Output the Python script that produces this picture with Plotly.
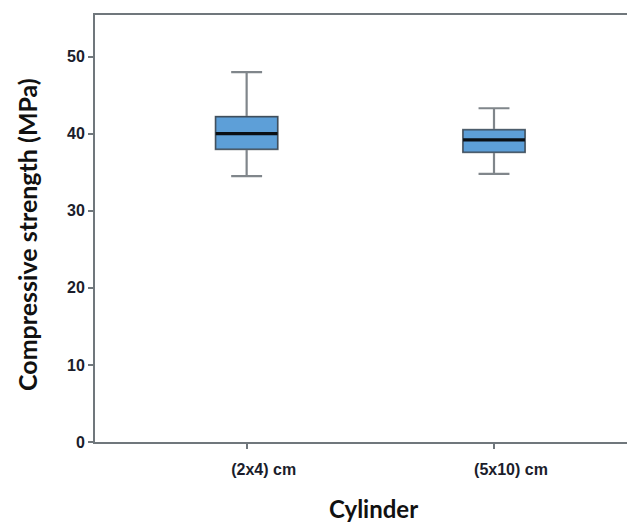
import plotly.graph_objects as go

categories = ["(2x4) cm", "(5x10) cm"]
lower_whisker = [34.5, 34.8]
q1_values = [38.0, 37.6]
medians = [40.0, 39.2]
q3_values = [42.2, 40.5]
upper_whisker = [48.0, 43.3]
y_ticks = [0, 10, 20, 30, 40, 50]

BOX_W = 0.25
FILL = "#5d9fd8"
WHISKER = "#80868b"
OUTLINE = "#3f4e5c"
AXIS = "#70777c"
TXT = "#1b1d2b"

xs = list(range(len(categories)))
fig = go.Figure()

for i in xs:
    # whiskers + box (gray)
    fig.add_trace(go.Box(
        x=[i], q1=[q1_values[i]], median=[medians[i]], q3=[q3_values[i]],
        lowerfence=[lower_whisker[i]], upperfence=[upper_whisker[i]],
        width=BOX_W, whiskerwidth=0.5, fillcolor=FILL,
        line=dict(color=WHISKER, width=2.2), showlegend=False, hoverinfo="skip"))
    # darker box outline
    fig.add_trace(go.Box(
        x=[i], q1=[q1_values[i]], median=[medians[i]], q3=[q3_values[i]],
        lowerfence=[q1_values[i]], upperfence=[q3_values[i]],
        width=BOX_W, whiskerwidth=0, fillcolor=FILL,
        line=dict(color=OUTLINE, width=1.3), showlegend=False, hoverinfo="skip"))
    # thick median line
    fig.add_trace(go.Scatter(
        x=[i - BOX_W / 2, i + BOX_W / 2], y=[medians[i], medians[i]],
        mode="lines", line=dict(color="#0a0f14", width=3.2),
        showlegend=False, hoverinfo="skip"))

# page body has an 8px margin, so the figure is sized/offset to compensate
fig.update_layout(
    width=635, height=517,
    margin=dict(l=87, r=8, t=5, b=83),
    plot_bgcolor="white", paper_bgcolor="white",
    font=dict(family="Liberation Sans, Arial", color=TXT),
    boxmode="overlay",
    xaxis=dict(
        range=[-0.613, 1.57], tickvals=xs, ticktext=categories,
        showgrid=False, zeroline=False,
        showline=True, linecolor=AXIS, linewidth=2, mirror=True,
        ticks="outside", ticklen=5, tickcolor=AXIS, tickwidth=2,
        ticklabelshift=17, ticklabelstandoff=7,
        tickfont=dict(family="Liberation Sans, Arial", size=16, color=TXT, weight="bold"),
    ),
    yaxis=dict(
        range=[0, 55.4], tickvals=y_ticks,
        showgrid=False, zeroline=False,
        showline=True, linecolor=AXIS, linewidth=2,
        ticks="outside", ticklen=5, tickcolor=AXIS, tickwidth=2,
        tickfont=dict(family="Liberation Sans, Arial", size=16, color=TXT, weight="bold"),
    ),
    annotations=[
        dict(text="Cylinder", xref="paper", yref="paper",
             x=(373 - 95) / 540, y=(442 - 509) / 429,
             xanchor="center", yanchor="middle", showarrow=False,
             font=dict(family="Lato", size=24, color="#111", weight="bold")),
        dict(text="Compressive strength (MPa)", xref="paper", yref="paper",
             x=(27 - 95) / 540, y=(442 - 234) / 429, textangle=-90,
             xanchor="center", yanchor="middle", showarrow=False,
             font=dict(family="Lato", size=25, color="#111", weight="bold")),
    ],
)

fig.write_html("out.html")
